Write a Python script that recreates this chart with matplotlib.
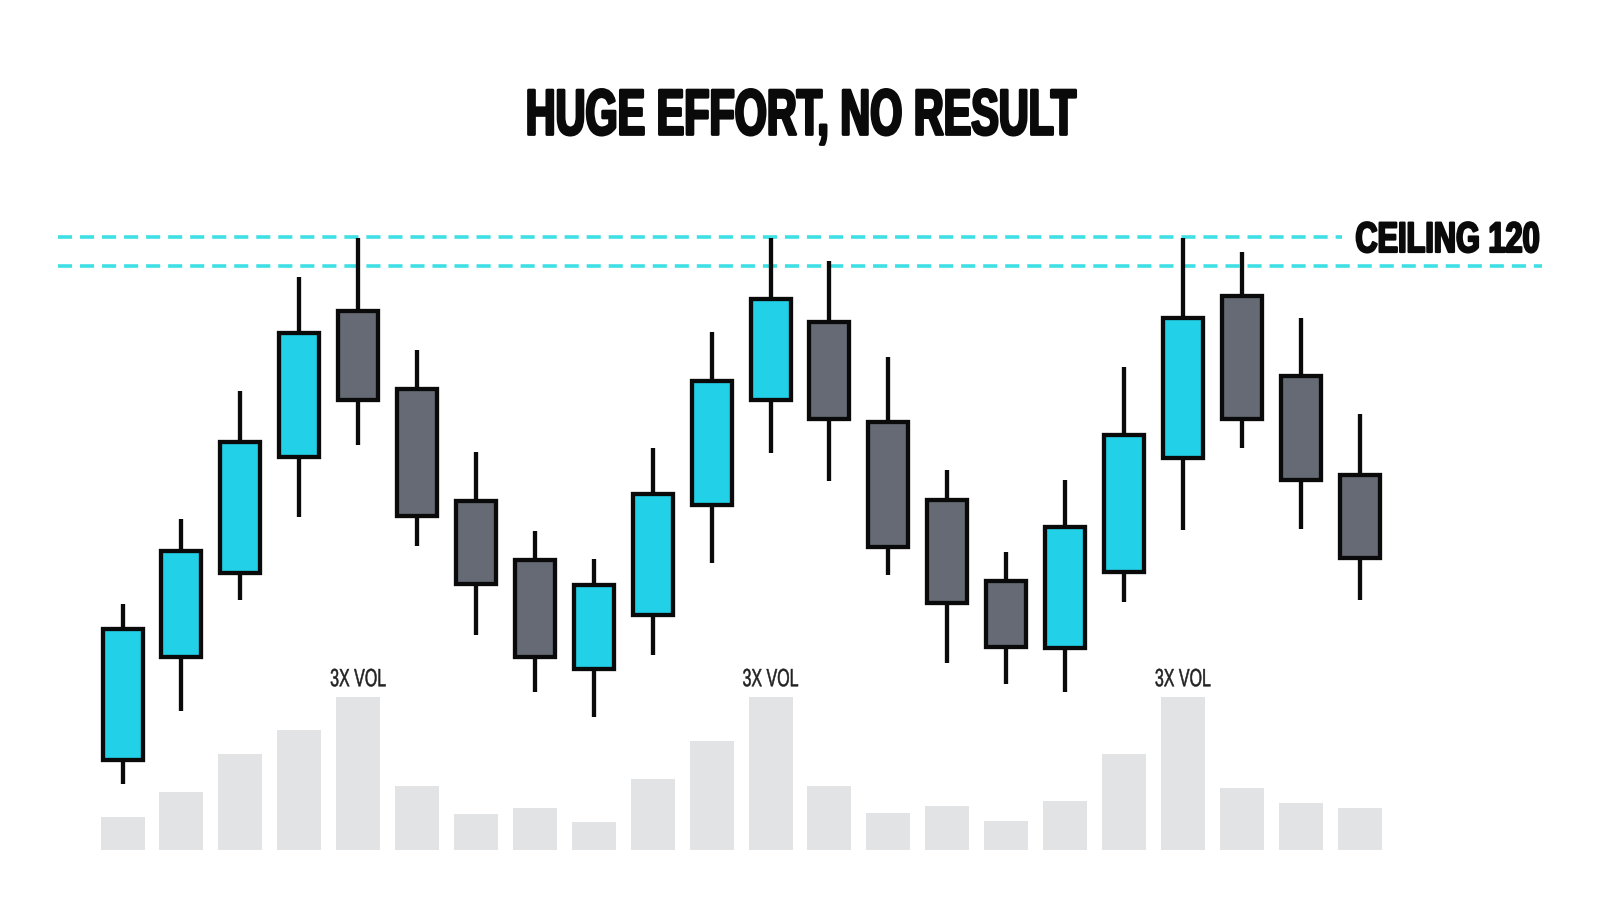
import matplotlib
matplotlib.use("Agg")
import matplotlib.pyplot as plt
import matplotlib.patheffects as pe
from matplotlib.transforms import Affine2D

# price levels per candle
highs = [53.8, 70.4, 95.6, 118.0, 125.6, 103.6, 83.6, 68.2, 62.6, 84.4, 107.2,
         125.6, 121.0, 102.2, 80.0, 64.0, 78.2, 100.2, 125.6, 122.8, 109.8, 91.0]
tops = [49.0, 64.2, 85.6, 107.0, 111.2, 96.0, 74.0, 62.4, 57.6, 75.4, 97.6,
        113.6, 109.0, 89.4, 74.2, 58.4, 69.0, 87.0, 109.8, 114.2, 98.6, 79.2]
bottoms = [23.2, 43.4, 59.8, 82.6, 93.8, 71.0, 57.8, 43.4, 41.0, 51.6, 73.2,
           93.8, 90.0, 65.0, 54.0, 45.4, 45.2, 60.0, 82.4, 90.0, 78.2, 62.8]
lows = [18.6, 32.8, 54.6, 70.8, 85.0, 65.2, 47.8, 36.6, 31.6, 43.8, 61.8,
        83.4, 78.0, 59.6, 42.2, 38.2, 36.6, 54.2, 68.4, 84.4, 68.6, 54.6]
is_up = [1, 1, 1, 1, 0, 0, 0, 0, 1, 1, 1, 1, 0, 0, 0, 0, 1, 1, 1, 0, 0, 0]
volume = [32, 57, 94, 118, 150, 63, 35, 41, 27, 70, 107,
          150, 63, 36, 43, 28, 48, 94, 150, 61, 46, 41]
spike_bars = [4, 11, 18]
ceiling_lines = [125.8, 120.0]

CYAN = "#22d0e8"
SLATE = "#656a75"
DASH = "#3fdfe6"
VOL_GREY = "#e2e3e5"
BLACK = "#0a0a0a"


# no condensed font installed, so squeeze the glyphs sideways while drawing
class Squeeze(pe.AbstractPathEffect):
    def __init__(self, sx, stroke_pt, color=BLACK):
        super().__init__()
        self.sx = sx
        self.stroke_pt = stroke_pt
        self.color = color

    def draw_path(self, renderer, gc, tpath, affine, rgbFace=None):
        box = tpath.get_extents()
        cx = (box.x0 + box.x1) / 2
        squeezed = Affine2D().translate(-cx, 0).scale(self.sx, 1).translate(cx, 0) + affine
        gc0 = renderer.new_gc()
        gc0.copy_properties(gc)
        gc0.set_foreground(self.color)
        gc0.set_linewidth(self.stroke_pt)
        renderer.draw_path(gc0, tpath, squeezed, rgbFace)
        gc0.restore()


plt.rcParams["font.family"] = ["Liberation Sans", "DejaVu Sans"]

fig = plt.figure(figsize=(16, 9.14), dpi=100, facecolor="white")
ax = fig.add_axes([0, 0, 1, 1])
ax.set_xlim(-2.08, 25.08)
ax.set_ylim(-6.94, 172.2)
ax.axis("off")

vol_ax = ax.twinx()
vol_ax.set_ylim(-62.7, 833)
vol_ax.axis("off")

n = len(highs)
for i in range(n):
    vol_ax.bar(i, volume[i], width=0.747, color=VOL_GREY, zorder=1)
    ax.plot([i, i], [lows[i], highs[i]], color=BLACK, lw=3.1, solid_capstyle="butt", zorder=2)
    ax.bar(i, tops[i] - bottoms[i], bottom=bottoms[i], width=0.68,
           color=CYAN if is_up[i] else SLATE, edgecolor=BLACK, linewidth=3.1, zorder=3)

for i in spike_bars:
    vol_ax.text(i, volume[i] + 10.5, "3X VOL", ha="center", va="baseline", fontsize=18, color="#222222",
                path_effects=[Squeeze(0.64, 0.35, "#222222")])

# dashed ceiling band, upper line stops before the label
ax.plot([-1.09, 20.7], [ceiling_lines[0]] * 2, color=DASH, lw=2.6, dashes=(3.9, 2.2), zorder=1)
ax.plot([-1.09, 24.1], [ceiling_lines[1]] * 2, color=DASH, lw=2.6, dashes=(3.9, 2.2), zorder=1)

fig.text(1447.5 / 1600, 1 - 252 / 914, "CEILING 120", ha="center", va="baseline", fontsize=30.7,
         fontweight="bold", color=BLACK, path_effects=[Squeeze(0.72, 1.6)])
fig.text(801 / 1600, 1 - 134.5 / 914, "HUGE EFFORT, NO RESULT", ha="center", va="baseline", fontsize=46.5,
         fontweight="bold", color=BLACK, path_effects=[Squeeze(0.64, 2.0)])

fig.savefig("out.png", dpi=100, facecolor="white")
